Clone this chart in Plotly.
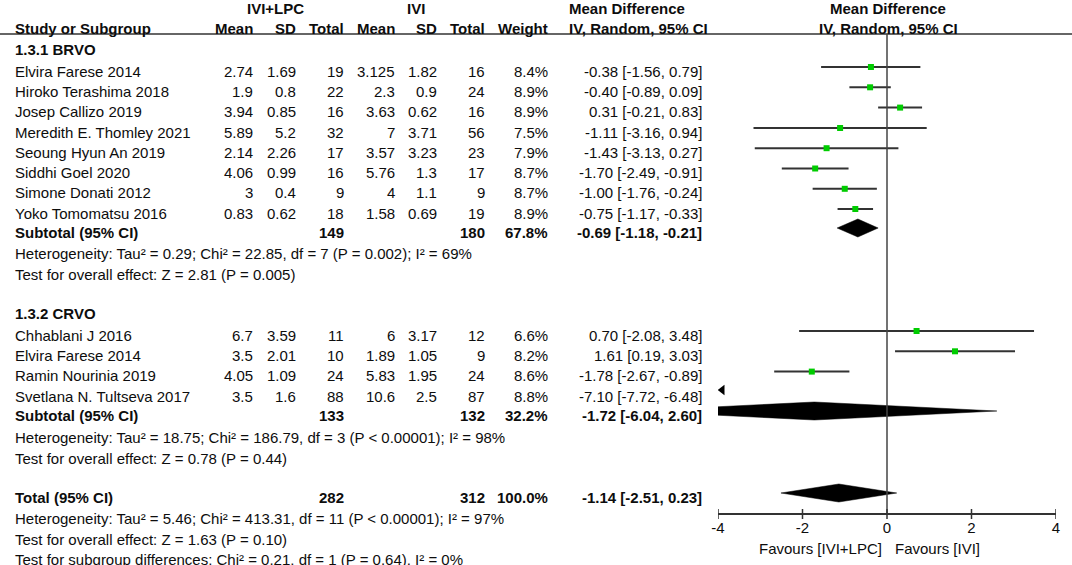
import plotly.graph_objects as go

W, H = 1072, 565

# ---------------- data ----------------
brvo_names = ["Elvira Farese 2014", "Hiroko Terashima 2018", "Josep Callizo 2019",
              "Meredith E. Thomley 2021", "Seoung Hyun An 2019", "Siddhi Goel 2020",
              "Simone Donati 2012", "Yoko Tomomatsu 2016"]
brvo_m1 = ["2.74", "1.9", "3.94", "5.89", "2.14", "4.06", "3", "0.83"]
brvo_sd1 = ["1.69", "0.8", "0.85", "5.2", "2.26", "0.99", "0.4", "0.62"]
brvo_n1 = [19, 22, 16, 32, 17, 16, 9, 18]
brvo_m2 = ["3.125", "2.3", "3.63", "7", "3.57", "5.76", "4", "1.58"]
brvo_sd2 = ["1.82", "0.9", "0.62", "3.71", "3.23", "1.3", "1.1", "0.69"]
brvo_n2 = [16, 24, 16, 56, 23, 17, 9, 19]
brvo_w = [8.4, 8.9, 8.9, 7.5, 7.9, 8.7, 8.7, 8.9]
brvo_md = [-0.38, -0.40, 0.31, -1.11, -1.43, -1.70, -1.00, -0.75]
brvo_lo = [-1.56, -0.89, -0.21, -3.16, -3.13, -2.49, -1.76, -1.17]
brvo_hi = [0.79, 0.09, 0.83, 0.94, 0.27, -0.91, -0.24, -0.33]
brvo_sub = dict(n1=149, n2=180, w=67.8, md=-0.69, lo=-1.18, hi=-0.21)
brvo_het = "Heterogeneity: Tau² = 0.29; Chi² = 22.85, df = 7 (P = 0.002); I² = 69%"
brvo_test = "Test for overall effect: Z = 2.81 (P = 0.005)"

crvo_names = ["Chhablani J 2016", "Elvira Farese 2014", "Ramin Nourinia 2019",
              "Svetlana N. Tultseva 2017"]
crvo_m1 = ["6.7", "3.5", "4.05", "3.5"]
crvo_sd1 = ["3.59", "2.01", "1.09", "1.6"]
crvo_n1 = [11, 10, 24, 88]
crvo_m2 = ["6", "1.89", "5.83", "10.6"]
crvo_sd2 = ["3.17", "1.05", "1.95", "2.5"]
crvo_n2 = [12, 9, 24, 87]
crvo_w = [6.6, 8.2, 8.6, 8.8]
crvo_md = [0.70, 1.61, -1.78, -7.10]
crvo_lo = [-2.08, 0.19, -2.67, -7.72]
crvo_hi = [3.48, 3.03, -0.89, -6.48]
crvo_sub = dict(n1=133, n2=132, w=32.2, md=-1.72, lo=-6.04, hi=2.60)
crvo_het = "Heterogeneity: Tau² = 18.75; Chi² = 186.79, df = 3 (P < 0.00001); I² = 98%"
crvo_test = "Test for overall effect: Z = 0.78 (P = 0.44)"

total = dict(n1=282, n2=312, w=100.0, md=-1.14, lo=-2.51, hi=0.23)
total_het = "Heterogeneity: Tau² = 5.46; Chi² = 413.31, df = 11 (P < 0.00001); I² = 97%"
total_test = "Test for overall effect: Z = 1.63 (P = 0.10)"
subgroup_test = "Test for subgroup differences: Chi² = 0.21, df = 1 (P = 0.64), I² = 0%"

tick_vals = [-4, -2, 0, 2, 4]
tick_text = ["-4", "-2", "0", "2", "4"]
axis_range = [-4, 4]

# ---------------- layout (pixel rows) ----------------
brvo_head_y = 45
brvo_rows = [67, 87.3, 107.6, 128, 148.2, 168.5, 188.8, 209]
brvo_sub_y = 228
brvo_het_y, brvo_test_y = 249, 270
crvo_head_y = 309
crvo_rows = [331, 351.3, 371.6, 392]
crvo_sub_y = 411
crvo_het_y, crvo_test_y = 433, 454
total_y = 493
total_het_y, total_test_y, subgroup_y = 514, 535, 555
TXT_OFF = 4
header_line_y = 34
axis_y = 514
COLS = dict(name=14, m1=254, sd1=297, n1=345, m2=396, sd2=438, n2=486, w=549, ci=703)

FONT = "Liberation Sans, Arial, sans-serif"
FS = 15
TXT = "#0d0d0d"
LINEC = "#333333"

ann = []


def text(px, py, s, anchor="right", bold=False):
    ann.append(dict(x=px / W, y=py, xref="paper", yref="y", text=f"<b>{s}</b>" if bold else s,
                    xanchor=anchor, yanchor="middle", showarrow=False, borderpad=0,
                    font=dict(family=FONT, size=FS, color=TXT)))


def ci_str(md, lo, hi):
    return f"{md:.2f} [{lo:.2f}, {hi:.2f}]"


# headers
text(275, 8, "IVI+LPC", "center", True)
text(416, 8, "IVI", "center", True)
text(568, 8, "Mean Difference", "left", True)
text(568, 28, "IV, Random, 95% CI", "left", True)
text(888, 8, "Mean Difference", "center", True)
text(888, 28, "IV, Random, 95% CI", "center", True)
text(COLS["name"], 28, "Study or Subgroup", "left", True)
for key, lab in [("m1", "Mean"), ("sd1", "SD"), ("n1", "Total"), ("m2", "Mean"),
                 ("sd2", "SD"), ("n2", "Total"), ("w", "Weight")]:
    text(COLS[key], 28, lab, "right", True)

fig = go.Figure()


def group(head, head_y, names, m1, sd1, n1, m2, sd2, n2, w, md, lo, hi, rows,
          sub, sub_y, het, het_y, test, test_y):
    text(COLS["name"], head_y + TXT_OFF, head, "left", True)
    lx, ly, mx, my, ax, ay = [], [], [], [], [], []
    for i, nm in enumerate(names):
        ty = rows[i] + TXT_OFF
        text(COLS["name"], ty, nm, "left")
        text(COLS["m1"], ty, m1[i]); text(COLS["sd1"], ty, sd1[i]); text(COLS["n1"], ty, str(n1[i]))
        text(COLS["m2"], ty, m2[i]); text(COLS["sd2"], ty, sd2[i]); text(COLS["n2"], ty, str(n2[i]))
        text(COLS["w"], ty, f"{w[i]:.1f}%")
        text(COLS["ci"], ty, ci_str(md[i], lo[i], hi[i]))
        if hi[i] < axis_range[0]:
            ax.append(axis_range[0] + 0.1); ay.append(rows[i] - 2)
        else:
            lx += [lo[i], hi[i], None]; ly += [rows[i], rows[i], None]
            mx.append(md[i]); my.append(rows[i])
    fig.add_trace(go.Scatter(x=lx, y=ly, mode="lines", line=dict(color=LINEC, width=2),
                             hoverinfo="skip", showlegend=False))
    fig.add_trace(go.Scatter(x=mx, y=my, mode="markers",
                             marker=dict(symbol="square", size=6, color="#00cc00"),
                             showlegend=False))
    if ax:
        fig.add_trace(go.Scatter(x=ax, y=ay, mode="markers",
                                 marker=dict(symbol="triangle-left", size=9, color="black"),
                                 showlegend=False))
    summary(sub, sub_y, "Subtotal (95% CI)")
    text(COLS["name"], het_y + TXT_OFF, het, "left")
    text(COLS["name"], test_y + TXT_OFF, test, "left")


def summary(s, y, label):
    ty = y + TXT_OFF
    text(COLS["name"], ty, label, "left", True)
    text(COLS["n1"], ty, str(s["n1"]), bold=True)
    text(COLS["n2"], ty, str(s["n2"]), bold=True)
    text(COLS["w"], ty, f"{s['w']:.1f}%", bold=True)
    text(COLS["ci"], ty, ci_str(s["md"], s["lo"], s["hi"]), bold=True)
    h = 9
    fig.add_trace(go.Scatter(x=[s["lo"], s["md"], s["hi"], s["md"], s["lo"]],
                             y=[y, y - h, y, y + h, y], mode="lines", fill="toself",
                             fillcolor="black", line=dict(color="black", width=0.5),
                             hoverinfo="skip", showlegend=False))


group("1.3.1 BRVO", brvo_head_y, brvo_names, brvo_m1, brvo_sd1, brvo_n1, brvo_m2, brvo_sd2,
      brvo_n2, brvo_w, brvo_md, brvo_lo, brvo_hi, brvo_rows, brvo_sub, brvo_sub_y,
      brvo_het, brvo_het_y, brvo_test, brvo_test_y)
group("1.3.2 CRVO", crvo_head_y, crvo_names, crvo_m1, crvo_sd1, crvo_n1, crvo_m2, crvo_sd2,
      crvo_n2, crvo_w, crvo_md, crvo_lo, crvo_hi, crvo_rows, crvo_sub, crvo_sub_y,
      crvo_het, crvo_het_y, crvo_test, crvo_test_y)
summary(total, total_y, "Total (95% CI)")
text(COLS["name"], total_het_y + TXT_OFF, total_het, "left")
text(COLS["name"], total_test_y + TXT_OFF, total_test, "left")
text(COLS["name"], subgroup_y + TXT_OFF, subgroup_test, "left")

text(883, 548, "Favours [IVI+LPC]", "right")
text(894, 548, "Favours [IVI]", "left")

shapes = [
    dict(type="line", xref="paper", yref="y", x0=0, x1=1, y0=header_line_y, y1=header_line_y,
         line=dict(color=LINEC, width=1.5)),
    dict(type="line", xref="x", yref="y", x0=0, x1=0, y0=header_line_y, y1=axis_y,
         line=dict(color="#444444", width=1.5)),
]
for tv in tick_vals:
    shapes.append(dict(type="line", xref="x", yref="y", x0=tv, x1=tv, y0=axis_y - 5,
                       y1=axis_y + 5, line=dict(color=LINEC, width=1.5)))

fig.update_layout(
    width=W, height=H, margin=dict(l=0, r=0, t=0, b=0, pad=0, autoexpand=False),
    paper_bgcolor="white", plot_bgcolor="rgba(0,0,0,0)",
    annotations=ann, shapes=shapes, showlegend=False,
    xaxis=dict(domain=[718 / W, 1056 / W], range=axis_range, anchor="free",
               position=1 - axis_y / H, showgrid=False, zeroline=False,
               showline=True, linecolor=LINEC, linewidth=1.5,
               ticks="", tickvals=tick_vals, ticktext=tick_text, automargin=False,
               tickfont=dict(family=FONT, size=FS, color=TXT)),
    yaxis=dict(domain=[0, 1], range=[H, 0], visible=False, showgrid=False, zeroline=False,
               automargin=False),
)

fig.write_html("out.html", config={"displayModeBar": False},
               post_script="document.body.style.margin='0';document.body.style.overflow='hidden';")
